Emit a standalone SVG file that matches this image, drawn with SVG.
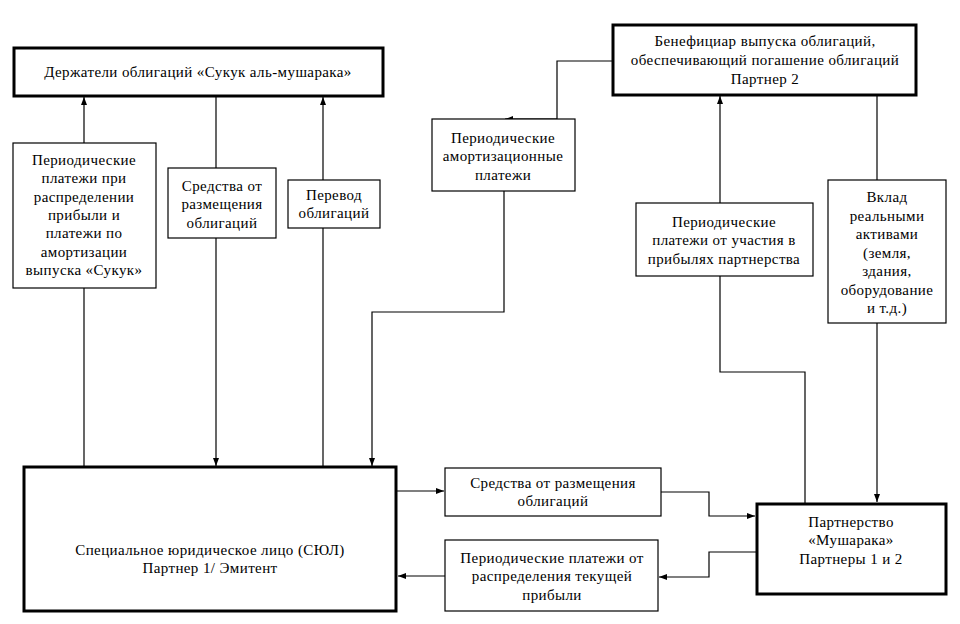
<svg xmlns="http://www.w3.org/2000/svg" width="960" height="624" viewBox="0 0 960 624">
<style>
text{font-family:'Liberation Serif',serif;font-size:15px;fill:#000;text-anchor:middle;letter-spacing:0.4px}
.b{fill:#fff;stroke:#000;stroke-width:1.2}
.t{fill:#fff;stroke:#000;stroke-width:3}
.c{fill:none;stroke:#000;stroke-width:1.2}
</style>
<defs>
<marker id="a" markerWidth="8" markerHeight="8" refX="8" refY="4" orient="auto" markerUnits="userSpaceOnUse">
<path d="M0,1 L8,4 L0,7 Z" fill="#000"/>
</marker>
</defs>
<rect width="960" height="624" fill="#fff"/>
<g id="connectors">
<path class="c" d="M84,467 V288"/>
<path class="c" d="M84,143 V97" marker-end="url(#a)"/>
<path class="c" d="M216,97 V168"/>
<path class="c" d="M216,238 V466" marker-end="url(#a)"/>
<path class="c" d="M323,467 V228"/>
<path class="c" d="M323,180 V97" marker-end="url(#a)"/>
<path class="c" d="M612,61 H557 V119 H505" marker-end="url(#a)"/>
<path class="c" d="M504,191 V312 H372 V466" marker-end="url(#a)"/>
<path class="c" d="M720,203 V96" marker-end="url(#a)"/>
<path class="c" d="M720,276 V372 H805 V503"/>
<path class="c" d="M877,95 V180"/>
<path class="c" d="M877,323 V502" marker-end="url(#a)"/>
<path class="c" d="M396,491 H444" marker-end="url(#a)"/>
<path class="c" d="M661,492 H709 V516 H755" marker-end="url(#a)"/>
<path class="c" d="M756,552 H709 V577 H659" marker-end="url(#a)"/>
<path class="c" d="M445,576 H398" marker-end="url(#a)"/>
</g>
<g font-family="'Liberation Serif', serif">
<g id="holders">
<rect class="t" x="14" y="48" width="369" height="48"/>
<text x="198" y="77">Держатели облигаций «Сукук аль-мушарака»</text>
</g>
<g id="periodic-sukuk">
<rect class="b" x="13" y="143" width="143" height="145"/>
<text x="84" y="165">Периодические</text>
<text x="84" y="183">платежи при</text>
<text x="84" y="202">распределении</text>
<text x="84" y="220">прибыли и</text>
<text x="84" y="238">платежи по</text>
<text x="84" y="257">амортизации</text>
<text x="84" y="275">выпуска «Сукук»</text>
</g>
<g id="funds-top">
<rect class="b" x="168" y="168" width="108" height="70"/>
<text x="222" y="191">Средства от</text>
<text x="222" y="209">размещения</text>
<text x="222" y="228">облигаций</text>
</g>
<g id="transfer">
<rect class="b" x="288" y="180" width="92" height="48"/>
<text x="334" y="200">Перевод</text>
<text x="334" y="218">облигаций</text>
</g>
<g id="spv">
<rect class="t" x="24" y="467" width="372" height="144"/>
<text x="210" y="555">Специальное юридическое лицо (СЮЛ)</text>
<text x="210" y="573">Партнер 1/ Эмитент</text>
</g>
<g id="beneficiary">
<rect class="t" x="613" y="25" width="303" height="70"/>
<text x="765" y="46">Бенефициар выпуска облигаций,</text>
<text x="765" y="65">обеспечивающий погашение облигаций</text>
<text x="765" y="84">Партнер 2</text>
</g>
<g id="amortization">
<rect class="b" x="432" y="119" width="143" height="72"/>
<text x="503" y="143">Периодические</text>
<text x="503" y="161">амортизационные</text>
<text x="503" y="180">платежи</text>
</g>
<g id="participation">
<rect class="b" x="636" y="203" width="177" height="73"/>
<text x="724" y="227">Периодические</text>
<text x="724" y="245">платежи от участия в</text>
<text x="724" y="264">прибылях партнерства</text>
</g>
<g id="contribution">
<rect class="b" x="828" y="180" width="118" height="143"/>
<text x="887" y="202">Вклад</text>
<text x="887" y="221">реальными</text>
<text x="887" y="239">активами</text>
<text x="887" y="258">(земля,</text>
<text x="887" y="276">здания,</text>
<text x="887" y="295">оборудование</text>
<text x="887" y="313">и т.д.)</text>
</g>
<g id="partnership">
<rect class="t" x="757" y="504" width="189" height="90"/>
<text x="851" y="527">Партнерство</text>
<text x="851" y="545">«Мушарака»</text>
<text x="851" y="564">Партнеры 1 и 2</text>
</g>
<g id="funds-bottom">
<rect class="b" x="445" y="468" width="216" height="48"/>
<text x="553" y="488">Средства от размещения</text>
<text x="553" y="506">облигаций</text>
</g>
<g id="distribution">
<rect class="b" x="445" y="540" width="213" height="71"/>
<text x="552" y="563">Периодические платежи от</text>
<text x="552" y="581">распределения текущей</text>
<text x="552" y="600">прибыли</text>
</g>
</g>
</svg>
